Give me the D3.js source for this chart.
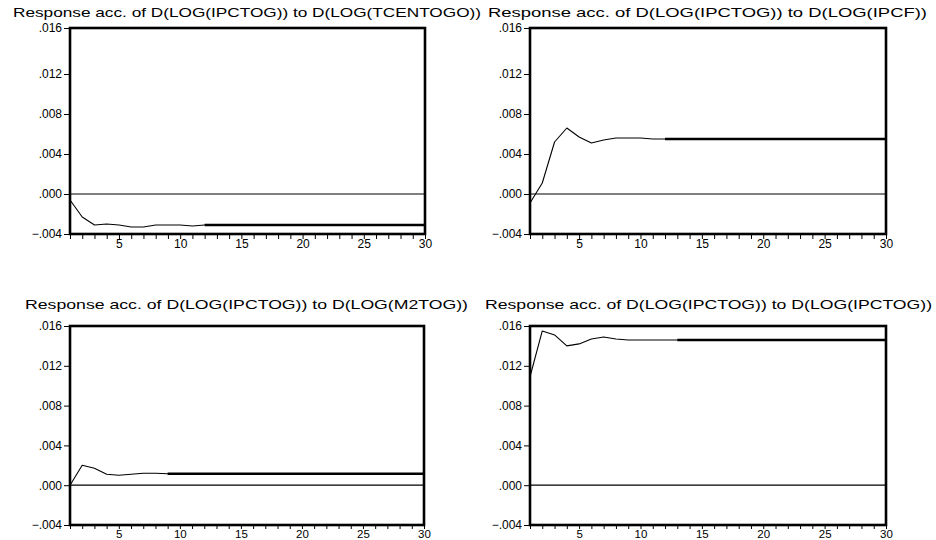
<!DOCTYPE html>
<html>
<head>
<meta charset="utf-8">
<script src="https://cdn.jsdelivr.net/npm/d3@7/dist/d3.min.js"></script>
<style>
  html, body { margin: 0; padding: 0; background: #fff; }
  svg { display: block; }
  text { font-family: "Liberation Sans", Arial, sans-serif; fill: #000; }
</style>
</head>
<body>
<svg id="chart" width="936" height="540"></svg>
<script>
// Accumulated impulse responses of D(LOG(IPCTOG)), periods 1..30
const periods = d3.range(1, 31);

const titles = [
  "Response acc. of D(LOG(IPCTOG)) to D(LOG(TCENTOGO))",
  "Response acc.  of D(LOG(IPCTOG)) to D(LOG(IPCF))",
  "Response acc. of D(LOG(IPCTOG)) to D(LOG(M2TOG))",
  "Response acc. of D(LOG(IPCTOG)) to D(LOG(IPCTOG))"
];

const respTCENTOGO = [-0.0006, -0.0023, -0.0031, -0.0030, -0.0031, -0.0033, -0.0033, -0.0031, -0.0031, -0.0031,
  -0.0032, -0.0031, -0.0031, -0.0031, -0.0031, -0.0031, -0.0031, -0.0031, -0.0031, -0.0031,
  -0.0031, -0.0031, -0.0031, -0.0031, -0.0031, -0.0031, -0.0031, -0.0031, -0.0031, -0.0031];

const respIPCF = [-0.0009, 0.0011, 0.0052, 0.0066, 0.0057, 0.0051, 0.0054, 0.0056, 0.0056, 0.0056,
  0.0055, 0.0055, 0.0055, 0.0055, 0.0055, 0.0055, 0.0055, 0.0055, 0.0055, 0.0055,
  0.0055, 0.0055, 0.0055, 0.0055, 0.0055, 0.0055, 0.0055, 0.0055, 0.0055, 0.0055];

const respM2TOG = [0.0000, 0.0020, 0.0017, 0.0011, 0.0010, 0.0011, 0.0012, 0.0012, 0.00115, 0.00115,
  0.00115, 0.00115, 0.00115, 0.00115, 0.00115, 0.00115, 0.00115, 0.00115, 0.00115, 0.00115,
  0.00115, 0.00115, 0.00115, 0.00115, 0.00115, 0.00115, 0.00115, 0.00115, 0.00115, 0.00115];

const respIPCTOG = [0.0109, 0.0155, 0.0151, 0.0140, 0.0142, 0.0147, 0.0149, 0.0147, 0.0146, 0.0146,
  0.0146, 0.0146, 0.0146, 0.0146, 0.0146, 0.0146, 0.0146, 0.0146, 0.0146, 0.0146,
  0.0146, 0.0146, 0.0146, 0.0146, 0.0146, 0.0146, 0.0146, 0.0146, 0.0146, 0.0146];

const yTicks = [-0.004, 0.000, 0.004, 0.008, 0.012, 0.016];
const xLabelTicks = [5, 10, 15, 20, 25, 30];

// panel frames and title placement; yStops/yPix give the vertical scale
// (the upper panels have a taller top band between .012 and .016)
const panels = [
  { series: respTCENTOGO, x0: 70,  x1: 425, yStops: [-0.004, 0.012, 0.016], yPix: [234, 74, 28],
    tx: 13,  tw: 468, ty: 17,  heavyFrom: 12, xTick: 5, xFont: 12 },
  { series: respIPCF,     x0: 530, x1: 886, yStops: [-0.004, 0.012, 0.016], yPix: [234, 74, 28],
    tx: 488, tw: 439, ty: 17,  heavyFrom: 12, xTick: 5, xFont: 12 },
  { series: respM2TOG,    x0: 70,  x1: 424, yStops: [-0.004, 0.016], yPix: [525, 326],
    tx: 25,  tw: 443, ty: 309, heavyFrom: 9,  xTick: 4, xFont: 11.5 },
  { series: respIPCTOG,   x0: 530, x1: 886, yStops: [-0.004, 0.016], yPix: [525, 326],
    tx: 485, tw: 447, ty: 309, heavyFrom: 13, xTick: 4, xFont: 11.5 }
];

const svg = d3.select("#chart");
const fmtY = v => d3.format(".3f")(v).replace("0.", ".");
const font = "'Liberation Sans', Arial, sans-serif";

panels.forEach((p, i) => {
  const g = svg.append("g");
  const x = d3.scaleLinear().domain([1, 30]).range([p.x0, p.x1]);
  const y = d3.scaleLinear().domain(p.yStops).range(p.yPix);
  const yTop = y(0.016), yBot = y(-0.004);

  // title
  g.append("text")
    .attr("x", p.tx).attr("y", p.ty)
    .attr("font-size", 13)
    .attr("textLength", p.tw)
    .attr("lengthAdjust", "spacingAndGlyphs")
    .text(titles[i]);

  // y axis
  const ya = g.append("g")
    .attr("transform", `translate(${p.x0},0)`)
    .call(d3.axisLeft(y).tickValues(yTicks).tickFormat(fmtY).tickSize(6).tickSizeOuter(0).tickPadding(2));
  ya.select(".domain").remove();
  ya.selectAll("line").attr("stroke", "#000").attr("stroke-width", 1);
  ya.selectAll("text").attr("font-size", 12).attr("font-family", font);

  // x axis
  const xa = g.append("g")
    .attr("transform", `translate(0,${yBot})`)
    .call(d3.axisBottom(x).tickValues(periods)
      .tickFormat(d => xLabelTicks.includes(d) ? d : "")
      .tickSize(p.xTick).tickSizeOuter(0).tickPadding(0.5));
  xa.select(".domain").remove();
  xa.selectAll("line").attr("stroke", "#000").attr("stroke-width", 1);
  xa.selectAll("text").attr("font-size", p.xFont).attr("font-family", font);

  // zero line
  g.append("line")
    .attr("x1", p.x0).attr("x2", p.x1)
    .attr("y1", y(0)).attr("y2", y(0))
    .attr("stroke", "#000").attr("stroke-width", 1.2);

  // response line
  const pts = periods.map((t, k) => [t, p.series[k]]);
  const line = d3.line().x(d => x(d[0])).y(d => y(d[1]));
  g.append("path").datum(pts)
    .attr("d", line).attr("fill", "none")
    .attr("stroke", "#000").attr("stroke-width", 1.1)
    .attr("stroke-linejoin", "round");
  g.append("path").datum(pts.filter(d => d[0] >= p.heavyFrom))
    .attr("d", line).attr("fill", "none")
    .attr("stroke", "#000").attr("stroke-width", 2.4);

  // frame
  g.append("rect")
    .attr("x", p.x0).attr("y", yTop)
    .attr("width", p.x1 - p.x0).attr("height", yBot - yTop)
    .attr("fill", "none").attr("stroke", "#000").attr("stroke-width", 2.6);
});
</script>
</body>
</html>
